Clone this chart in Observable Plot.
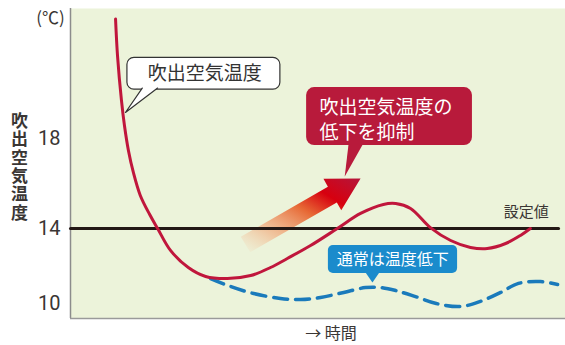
<!DOCTYPE html>
<html><head><meta charset="utf-8">
<script src="https://cdn.jsdelivr.net/npm/d3@7"></script>
<script src="https://cdn.jsdelivr.net/npm/@observablehq/plot@0.6"></script>
<style>html,body{margin:0;padding:0;background:#fff}</style>
</head><body><div id="chart"></div>
<script>
// ---- data (time in arbitrary units 0–100, temperature in ℃) ----
const redTime = [9.1, 9.5, 10.3, 10.9, 11.7, 12.7, 14.1, 16.0, 17.6, 20.2, 23.8, 27.3, 31.7, 36.4, 40.4, 43.8, 48.5, 53.9, 58.6, 63.2, 65.7, 68.7, 72.7, 76.8, 80.8, 84.2, 87.9, 90.9, 92.9];
const redTemp = [23.33, 21.69, 19.69, 18.58, 17.47, 16.49, 15.47, 14.62, 14.0, 12.83, 11.92, 11.44, 11.33, 11.49, 11.92, 12.4, 13.09, 14.0, 14.67, 15.07, 15.11, 14.89, 14.04, 13.36, 12.99, 12.93, 13.2, 13.63, 14.0];
const blueTime = [28.3, 32.3, 37.0, 42.4, 46.5, 50.5, 55.2, 59.6, 62.6, 65.7, 69.7, 73.9, 78.8, 82.8, 86.9, 90.5, 94.9, 98.4];
const blueTemp = [11.33, 10.91, 10.53, 10.27, 10.21, 10.32, 10.59, 10.85, 10.85, 10.69, 10.37, 10.0, 9.84, 10.11, 10.59, 11.07, 11.17, 11.01];
const setpointTemp = 14;
const setpointTime = [0, 98.6];
const yTicks = [10, 14, 18];

// ---- texts ----
const unitLabel = "(℃)";
const yTitle = "吹出空気温度";
const xTitle = "→ 時間";
const setpointLabel = "設定値";
const whiteCallout = "吹出空気温度";
const redCallout = ["吹出空気温度の", "低下を抑制"];
const blueCallout = "通常は温度低下";

const redData = redTime.map((t, i) => ({t, v: redTemp[i]}));
const blueData = blueTime.map((t, i) => ({t, v: blueTemp[i]}));

const jp = "'Noto Sans CJK JP', 'Noto Sans', sans-serif";
const num = "'Liberation Sans Narrow', Roboto, sans-serif";
const ink = "#3a3634";
const redC = "#c0163c";
const blueC = "#1a7abb";

const chart = Plot.plot({
  width: 565, height: 345,
  marginLeft: 70, marginRight: 0, marginTop: 8, marginBottom: 27,
  style: {background: "#ffffff", fontFamily: jp, color: ink},
  x: {domain: [0, 100], axis: null},
  y: {type: "linear", domain: [9.2, 10, 14, 18, 23.8], range: [318, 303, 228, 138, 8], axis: null},
  marks: [
    () => {
      const defs = d3.create("svg:defs");
      const g = defs.append("linearGradient").attr("id", "arrowGrad")
        .attr("x1", 0).attr("y1", 1).attr("x2", 1).attr("y2", 0);
      [[0, "#f6c9a3", 0], [0.25, "#f2ad80", 0.65], [0.55, "#e76a36", 1], [0.75, "#d7000f", 1], [1, "#b5153b", 1]]
        .forEach(([o, c, a]) => g.append("stop").attr("offset", o).attr("stop-color", c).attr("stop-opacity", a));
      return defs.node();
    },
    Plot.frame({fill: "#ecf3da", stroke: "none"}),
    // gradient arrow
    Plot.line([
      {t: 34.4, v: 13.56}, {t: 52.0, v: 15.86}, {t: 51.1, v: 16.21}, {t: 58.6, v: 16.22},
      {t: 54.7, v: 14.81}, {t: 53.8, v: 15.16}, {t: 36.3, v: 12.73}
    ], {x: "t", y: "v", fill: "url(#arrowGrad)", stroke: "none"}),
    Plot.ruleX([0], {stroke: "#8c8c8c", strokeWidth: 1.5}),
    Plot.ruleY([9.2], {stroke: "#9a9a9a", strokeWidth: 1.5}),
    Plot.axisY({ticks: yTicks, tickSize: 0, tickPadding: 10, fontSize: 20, fontFamily: num, fill: ink, label: null}),
    // setpoint line
    Plot.line(setpointTime.map(t => ({t, v: setpointTemp})), {x: "t", y: "v", stroke: "#231815", strokeWidth: 3}),
    // usual (dashed) and controlled (solid) curves
    Plot.line(blueData, {x: "t", y: "v", stroke: blueC, strokeWidth: 3.5, strokeDasharray: "14,8", curve: "catmull-rom"}),
    Plot.line(redData, {x: "t", y: "v", stroke: redC, strokeWidth: 3, curve: "catmull-rom"}),
    // white callout
    Plot.rect([0], {x1: 11.5, x2: 42.4, y1: 20.18, y2: 21.6, rx: 7, fill: "white", stroke: "#333", strokeWidth: 1.2}),
    Plot.line([{t: 14.5, v: 20.25}, {t: 11.1, v: 19.16}, {t: 17.6, v: 20.25}], {x: "t", y: "v", fill: "white", stroke: "#333", strokeWidth: 1.2}),
    Plot.text([whiteCallout], {x: 27.1, y: 20.89, fontSize: 19, fill: "#333"}),
    // red callout
    Plot.rect([0], {x1: 47.7, x2: 81.2, y1: 17.69, y2: 20.27, rx: 8, fill: "#b81a3b"}),
    Plot.line([{t: 56.2, v: 17.8}, {t: 55.4, v: 16.31}, {t: 59.2, v: 17.8}], {x: "t", y: "v", fill: "#b81a3b", stroke: "none"}),
    Plot.text([redCallout.join("\n")], {x: 50.3, y: 18.91, textAnchor: "start", fontSize: 19, lineHeight: 1.32, fill: "white"}),
    // blue callout
    Plot.rect([0], {x1: 52.1, x2: 78.2, y1: 11.6, y2: 13.09, rx: 5, fill: "#1a8bcc"}),
    Plot.line([{t: 59.6, v: 11.65}, {t: 61.0, v: 11.12}, {t: 62.4, v: 11.65}], {x: "t", y: "v", fill: "#1a8bcc", stroke: "none"}),
    Plot.text([blueCallout], {x: 65.1, y: 12.35, fontSize: 16, fill: "white"}),
    // setpoint label
    Plot.text([setpointLabel], {x: 96.6, y: 14.71, textAnchor: "end", fontSize: 15, fill: ink}),
    // axis titles
    Plot.text([unitLabel], {frameAnchor: "top-left", dx: -20, dy: 10, textAnchor: "middle", lineAnchor: "middle", fontSize: 17, fill: ink}),
    Plot.text([yTitle], {frameAnchor: "left", dx: -51, dy: -2, textAnchor: "middle", lineAnchor: "middle", fontSize: 17, fontWeight: "bold", fill: ink}),
    Plot.text([xTitle], {frameAnchor: "bottom", dx: 13, dy: 15, textAnchor: "middle", lineAnchor: "middle", fontSize: 16, fill: ink})
  ]
});
// set the vertical (tategaki) y-axis title
d3.select(chart).selectAll("text").filter(function() {
    const p = this.parentNode;
    return this.textContent === yTitle && p && p.getAttribute("font-weight") === "bold";
  })
  .each(function() {
    this.removeAttribute("dy");
    this.setAttribute("writing-mode", "vertical-rl");
    this.style.writingMode = "vertical-rl";
    this.style.textOrientation = "upright";
    this.style.letterSpacing = "1.3px";
  });
document.getElementById("chart").appendChild(chart);
</script>
</body></html>
